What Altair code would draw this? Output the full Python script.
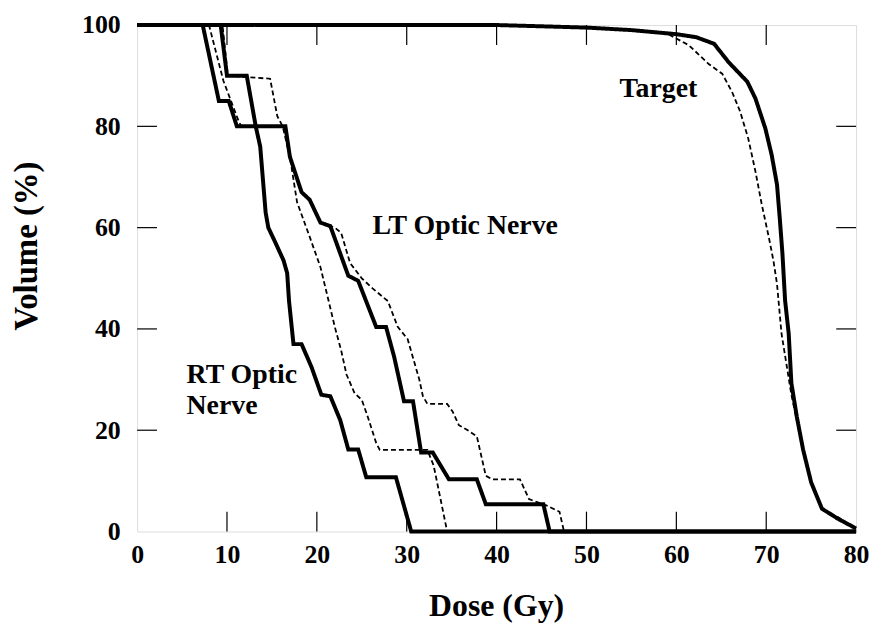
import altair as alt
import pandas as pd

# ---- data (Dose in Gy, Volume in %) ----
rt_solid_dose = [0, 7.3, 9.1, 10.2, 11.1, 13.2, 13.7, 14.3, 14.6, 15.4, 16.3, 16.7, 16.9, 17.4, 18.3, 19.4, 20.5, 21.5, 22.6, 23.5, 24.6, 25.5, 28.8, 30.5, 80]
rt_solid_vol = [100, 100, 85, 85, 80, 80, 76, 63, 60, 57, 53.5, 51, 45.6, 37, 37, 32.5, 27, 26.7, 22, 16.2, 16.2, 10.7, 10.7, 0, 0]

lt_solid_dose = [0, 9.3, 10.0, 12.2, 13.2, 16.5, 17.0, 18.3, 19.2, 20.4, 21.5, 23.5, 24.6, 26.6, 27.7, 28.6, 29.7, 30.7, 31.6, 32.9, 34.7, 37.8, 38.8, 45.2, 45.9, 80]
lt_solid_vol = [100, 100, 90, 90, 80, 80, 74, 67, 65.5, 61, 60.3, 50.5, 49.5, 40.4, 40.4, 34.5, 25.7, 25.7, 15.6, 15.6, 10.3, 10.3, 5.4, 5.4, 0, 0]

rt_dash_dose = [0, 8.0, 9.6, 11.3, 11.6, 16.3, 17.0, 17.8, 19.1, 20.4, 21.3, 22.0, 22.7, 23.3, 24.2, 25.0, 25.6, 26.6, 27.0, 32.3, 33.0, 34.5, 80]
rt_dash_vol = [100, 100, 89, 81, 80, 80, 74, 65, 58.7, 52.2, 45.6, 40.4, 35.8, 31, 27.3, 26, 23, 17.5, 16.1, 16.1, 13, 0, 0]

lt_dash_dose = [0, 9.5, 10.1, 14.8, 15.6, 16.2, 17.0, 18.3, 19.2, 20.4, 22.0, 22.7, 23.7, 25.0, 26.2, 27.9, 29.0, 30.1, 31.4, 31.8, 32.3, 34.5, 35.1, 35.8, 36.7, 37.8, 38.8, 39.5, 42.6, 43.6, 45.6, 47.0, 47.5, 80]
lt_dash_vol = [100, 100, 90, 89.4, 82, 80, 74, 67, 65.5, 61, 60, 59, 53, 50, 48, 45.5, 40.4, 38, 30, 26.7, 25.2, 25.2, 23.7, 21, 20.1, 18.8, 11, 10.3, 10.3, 6.4, 5.1, 3.9, 0, 0]

tg_solid_dose = [0, 40, 50, 55, 60, 62.2, 64.2, 65.8, 67.9, 68.8, 69.9, 70.6, 71.2, 71.5, 71.8, 72.1, 72.5, 72.8, 73.4, 74.1, 75.0, 76.2, 78.0, 80]
tg_solid_vol = [100, 100, 99.5, 99, 98.2, 97.6, 96.3, 92.7, 88.8, 85.5, 79.6, 74.4, 68.5, 62, 55, 45.6, 39.1, 29.3, 22.7, 16.2, 9.7, 4.5, 2.5, 0.6]

tg_dash_dose = [0, 40, 50, 55, 59, 61.4, 63.6, 65.1, 66.2, 67.1, 68.0, 68.8, 69.5, 70.3, 70.8, 71.2, 71.7, 72.3, 72.8, 73.4, 74.1, 75.0, 76.2, 78.0, 80]
tg_dash_vol = [100, 100, 99.5, 99, 98.3, 96, 92.3, 90.4, 86.8, 82.9, 77.6, 71.1, 64.6, 58, 53.5, 48.9, 39.1, 32.5, 27, 22, 15.8, 9.5, 4.5, 2.8, 0.6]

x_ticks = [10, 20, 30, 40, 50, 60, 70]
y_ticks = [20, 40, 60, 80]

labels_text = [["Target"], ["LT Optic Nerve"], ["RT Optic", "Nerve"]]
labels_dose = [58.0, 26.2, 5.5]
labels_vol = [85.8, 58.7, 29.4]
labels_align = ["center", "left", "left"]

# ---- build tables ----
curves = [
    ("RT solid", "solid", rt_solid_dose, rt_solid_vol),
    ("LT solid", "solid", lt_solid_dose, lt_solid_vol),
    ("RT dashed", "dashed", rt_dash_dose, rt_dash_vol),
    ("LT dashed", "dashed", lt_dash_dose, lt_dash_vol),
    ("Target solid", "solid", tg_solid_dose, tg_solid_vol),
    ("Target dashed", "dashed", tg_dash_dose, tg_dash_vol),
]
rows = []
for name, style, ds, vs in curves:
    for i, (d, v) in enumerate(zip(ds, vs)):
        rows.append({"curve": name, "style": style, "dose": d, "vol": v, "idx": i})
df = pd.DataFrame(rows)

W, H = 724, 510
FONT = "Liberation Serif"

xs = alt.Scale(domain=[0, 80], nice=False, zero=False)
ys = alt.Scale(domain=[0, 100], nice=False, zero=False)

lines = alt.Chart(df).mark_line(color="black", strokeCap="butt", strokeJoin="miter").encode(
    x=alt.X("dose:Q", scale=xs,
            axis=alt.Axis(values=list(range(0, 81, 10)), title="Dose (Gy)", ticks=False, grid=False,
                          domain=False, labelFont=FONT, labelFontSize=26, labelFontWeight="bold",
                          labelColor="black", labelPadding=10, titleFont=FONT, titleFontSize=32,
                          titleFontWeight="bold", titleColor="black", titleBaseline="alphabetic",
                          titleX=361.5, titleY=85, titleAnchor="middle", labelFlush=False)),
    y=alt.Y("vol:Q", scale=ys,
            axis=alt.Axis(values=list(range(0, 101, 20)), title="Volume (%)", ticks=False, grid=False,
                          domain=False, labelFont=FONT, labelFontSize=26, labelFontWeight="bold",
                          labelColor="black", labelPadding=17, titleFont=FONT, titleFontSize=33,
                          titleFontWeight="bold", titleColor="black", titleBaseline="alphabetic",
                          titleAngle=270, titleX=-101.5, titleY=222, titleAlign="center",
                          labelFlush=False)),
    detail="curve:N",
    order="idx:Q",
    strokeDash=alt.StrokeDash("style:N", scale=alt.Scale(domain=["solid", "dashed"], range=[[1, 0], [5, 3]]), legend=None),
    strokeWidth=alt.StrokeWidth("style:N", scale=alt.Scale(domain=["solid", "dashed"], range=[4, 1.8]), legend=None),
)

xt = pd.DataFrame({"t": x_ticks})
yt = pd.DataFrame({"t": y_ticks})
tick_bottom = alt.Chart(xt).mark_rule(color="black", strokeWidth=1.2).encode(
    x=alt.X("t:Q", scale=xs), y=alt.value(H), y2=alt.value(H - 20))
tick_top = alt.Chart(xt).mark_rule(color="black", strokeWidth=1.2).encode(
    x=alt.X("t:Q", scale=xs), y=alt.value(0), y2=alt.value(20))
tick_left = alt.Chart(yt).mark_rule(color="black", strokeWidth=1.2).encode(
    y=alt.Y("t:Q", scale=ys), x=alt.value(0), x2=alt.value(20))
tick_right = alt.Chart(yt).mark_rule(color="black", strokeWidth=1.2).encode(
    y=alt.Y("t:Q", scale=ys), x=alt.value(W), x2=alt.value(W - 20))

lab = pd.DataFrame({"text": labels_text, "dose": labels_dose, "vol": labels_vol, "align": labels_align})
texts = []
for al in ["center", "left"]:
    texts.append(
        alt.Chart(lab[lab["align"] == al]).mark_text(
            font=FONT, fontSize=28, fontWeight="bold", color="black", align=al,
            baseline="alphabetic", lineHeight=32
        ).encode(x=alt.X("dose:Q", scale=xs), y=alt.Y("vol:Q", scale=ys), text="text")
    )

chart = alt.layer(lines, tick_bottom, tick_top, tick_left, tick_right, *texts).properties(
    width=W, height=H,
    autosize=alt.AutoSizeParams(type="none"),
    padding={"left": 130, "top": 15, "right": 14, "bottom": 96},
).configure_view(stroke="black", strokeWidth=1.2).configure(background="white")

chart.save("out.html", embed_options={"renderer": "svg", "actions": False})
